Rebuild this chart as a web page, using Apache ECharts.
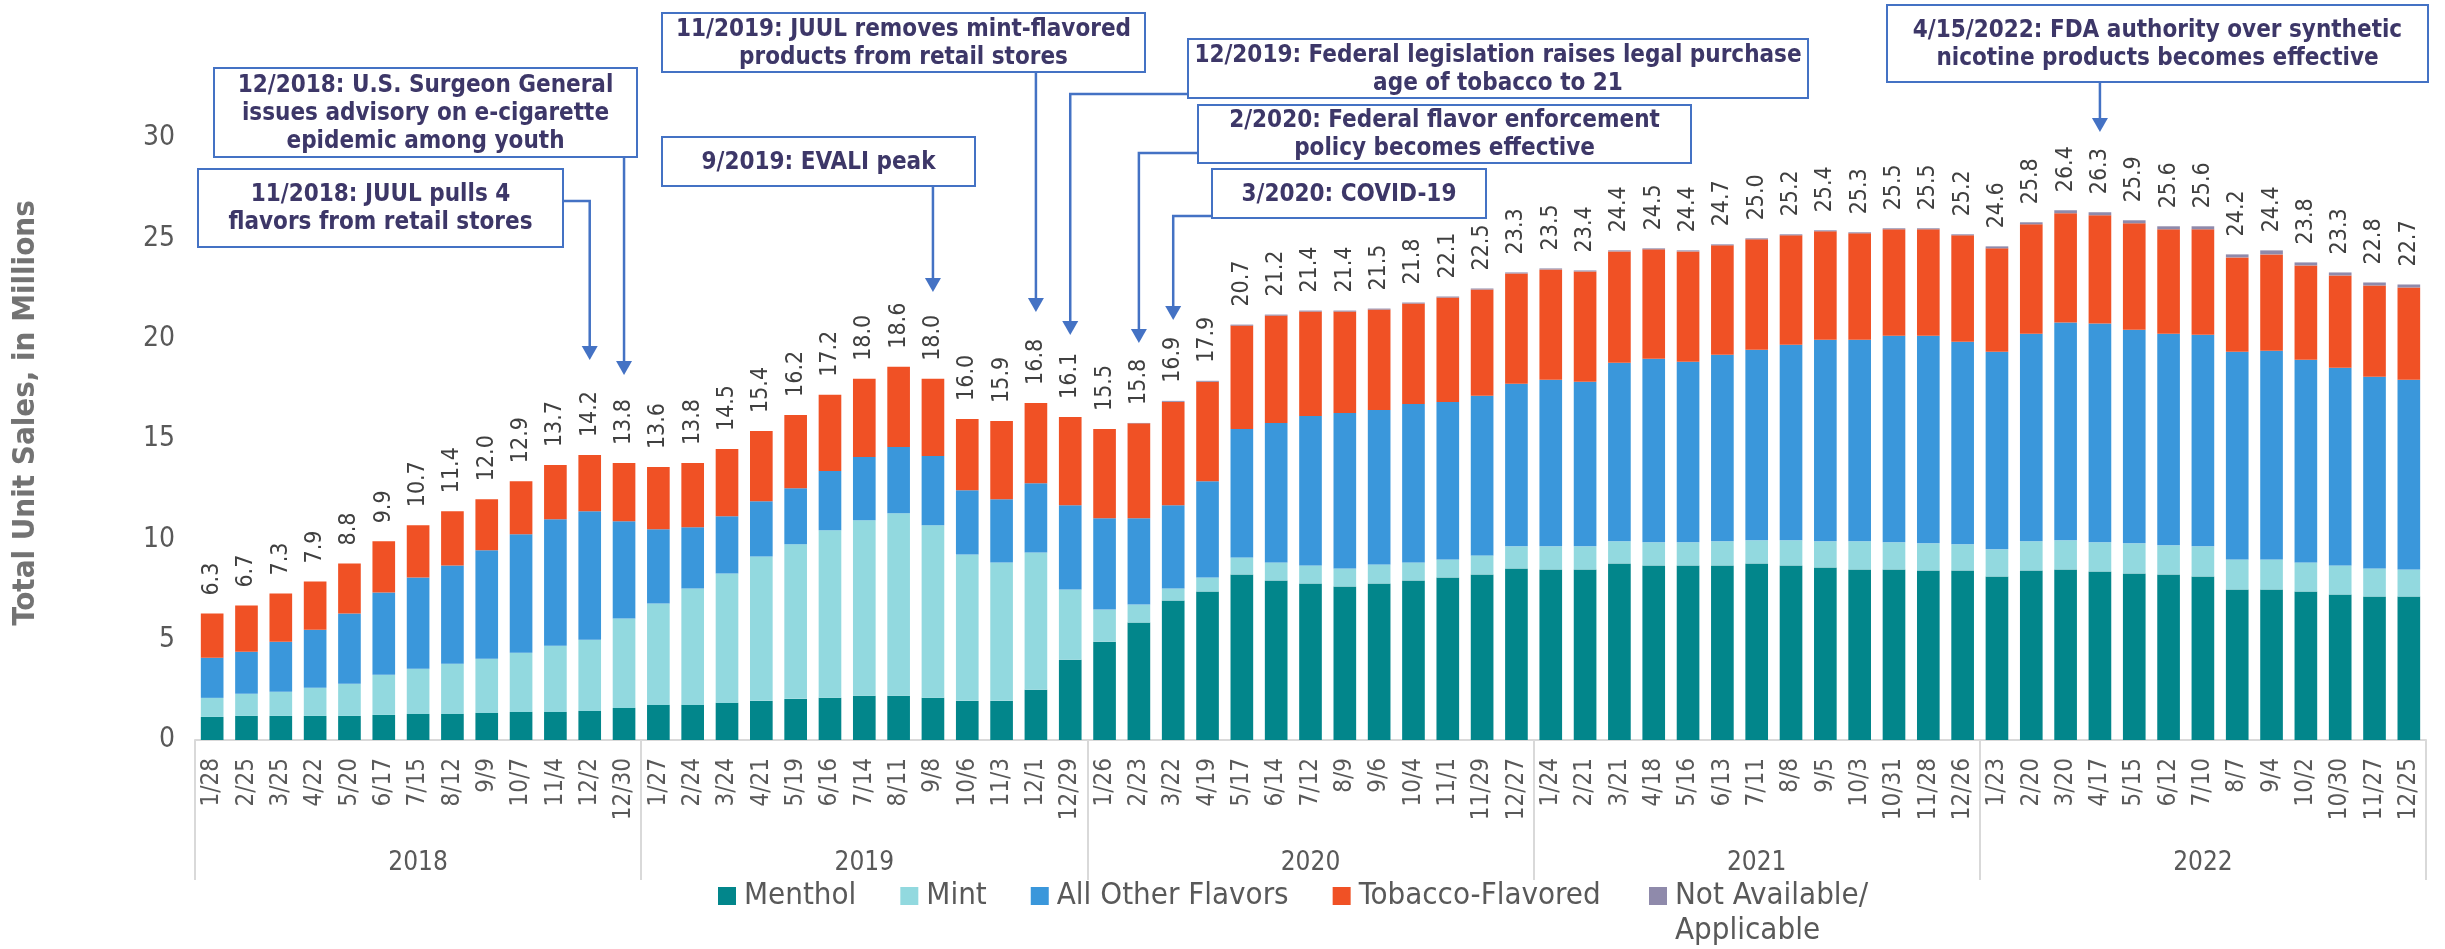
<!DOCTYPE html>
<html><head><meta charset="utf-8">
<script src="https://cdn.jsdelivr.net/npm/echarts@6/dist/echarts.min.js"></script>
<style>html,body{margin:0;padding:0;background:#fff;}#chart{width:2445px;height:949px;}</style>
</head><body><div id="chart"></div>
<script>
const categories = [
 '1/28','2/25','3/25','4/22','5/20','6/17','7/15','8/12','9/9','10/7','11/4','12/2','12/30',
 '1/27','2/24','3/24','4/21','5/19','6/16','7/14','8/11','9/8','10/6','11/3','12/1','12/29',
 '1/26','2/23','3/22','4/19','5/17','6/14','7/12','8/9','9/6','10/4','11/1','11/29','12/27',
 '1/24','2/21','3/21','4/18','5/16','6/13','7/11','8/8','9/5','10/3','10/31','11/28','12/26',
 '1/23','2/20','3/20','4/17','5/15','6/12','7/10','8/7','9/4','10/2','10/30','11/27','12/25'];
const years = ['2018','2019','2020','2021','2022'];
const totals = [
 6.3,6.7,7.3,7.9,8.8,9.9,10.7,11.4,12.0,12.9,13.7,14.2,13.8,
 13.6,13.8,14.5,15.4,16.2,17.2,18.0,18.6,18.0,16.0,15.9,16.8,16.1,
 15.5,15.8,16.9,17.9,20.7,21.2,21.4,21.4,21.5,21.8,22.1,22.5,23.3,
 23.5,23.4,24.4,24.5,24.4,24.7,25.0,25.2,25.4,25.3,25.5,25.5,25.2,
 24.6,25.8,26.4,26.3,25.9,25.6,25.6,24.2,24.4,23.8,23.3,22.8,22.7];
const menthol = [
 1.15,1.2,1.2,1.2,1.2,1.25,1.3,1.3,1.35,1.4,1.4,1.45,1.6,
 1.75,1.75,1.85,1.95,2.05,2.1,2.2,2.2,2.1,1.95,1.95,2.5,4.0,
 4.9,5.85,6.95,7.4,8.25,7.95,7.8,7.65,7.8,7.95,8.1,8.25,8.55,
 8.5,8.5,8.8,8.7,8.7,8.7,8.8,8.7,8.6,8.5,8.5,8.45,8.45,
 8.15,8.45,8.5,8.4,8.3,8.25,8.15,7.5,7.5,7.4,7.25,7.15,7.15];
const mint = [
 0.95,1.1,1.2,1.4,1.6,2.0,2.25,2.5,2.7,2.95,3.3,3.55,4.45,
 5.05,5.8,6.45,7.2,7.7,8.35,8.75,9.1,8.6,7.3,6.9,6.85,3.5,
 1.6,0.9,0.6,0.7,0.85,0.9,0.9,0.9,0.95,0.9,0.9,0.95,1.1,
 1.15,1.15,1.1,1.15,1.15,1.2,1.15,1.25,1.3,1.4,1.35,1.35,1.3,
 1.35,1.45,1.45,1.45,1.5,1.45,1.5,1.5,1.5,1.45,1.45,1.4,1.35];
const otherFlavors = [
 2.0,2.1,2.5,2.9,3.5,4.1,4.55,4.9,5.4,5.9,6.3,6.4,4.85,
 3.7,3.05,2.85,2.75,2.8,2.95,3.15,3.3,3.45,3.2,3.15,3.45,4.2,
 4.55,4.3,4.15,4.8,6.4,6.95,7.45,7.75,7.7,7.9,7.85,7.95,8.1,
 8.3,8.2,8.9,9.15,9.0,9.3,9.5,9.75,10.05,10.05,10.3,10.35,10.1,
 9.85,10.35,10.85,10.9,10.65,10.55,10.55,10.35,10.4,10.1,9.85,9.55,9.45];
const tobacco = [
 2.2,2.3,2.4,2.4,2.5,2.55,2.6,2.7,2.55,2.65,2.7,2.8,2.9,
 3.1,3.2,3.35,3.5,3.65,3.8,3.9,4.0,3.85,3.55,3.9,4.0,4.4,
 4.45,4.73,5.15,4.95,5.15,5.35,5.2,5.05,5.0,5.0,5.2,5.3,5.5,
 5.5,5.5,5.55,5.45,5.5,5.45,5.5,5.45,5.4,5.3,5.3,5.3,5.3,
 5.15,5.45,5.45,5.4,5.3,5.2,5.25,4.7,4.8,4.7,4.6,4.55,4.6];
const notAvailable = [
 0,0,0,0,0,0,0,0,0,0,0,0,0,
 0,0,0,0,0,0,0,0,0,0,0,0,0,
 0,0.02,0.05,0.05,0.05,0.05,0.05,0.05,0.05,0.05,0.05,0.05,0.05,
 0.05,0.05,0.05,0.05,0.05,0.05,0.05,0.05,0.05,0.05,0.05,0.05,0.05,
 0.1,0.1,0.15,0.15,0.15,0.15,0.15,0.15,0.2,0.15,0.15,0.15,0.15];
const seriesNames = ['Menthol','Mint','All Other Flavors','Tobacco-Flavored','Not Available/Applicable'];
const colors = ['#02868B','#92D9DF','#3A97DB','#F05125','#8F8AAB'];
const annotations = [
 {text:'12/2018: U.S. Surgeon General\nissues advisory on e-cigarette\nepidemic among youth', box:[214,68,423,89], cat:12, from:'bottom', tipY:375},
 {text:'11/2018: JUUL pulls 4\nflavors from retail stores', box:[198,169,365,78], cat:11, from:'right', y:201, tipY:360},
 {text:'11/2019: JUUL removes mint-flavored\nproducts from retail stores', box:[662,13,483,59], cat:24, from:'bottom', tipY:312},
 {text:'9/2019: EVALI peak', box:[662,137,313,49], cat:21, from:'bottom', tipY:292},
 {text:'12/2019: Federal legislation raises legal purchase\nage of tobacco to 21', box:[1188,39,620,59], cat:25, from:'left', y:94, tipY:335},
 {text:'2/2020: Federal flavor enforcement\npolicy becomes effective', box:[1198,105,493,58], cat:27, from:'left', y:153, tipY:343},
 {text:'3/2020: COVID-19', box:[1212,169,274,49], cat:28, from:'left', y:216, tipY:320},
 {text:'4/15/2022: FDA authority over synthetic\nnicotine products becomes effective', box:[1887,5,541,77], cat:55, from:'bottom', tipY:132}
];

function fontAvailable(f){
  const c = document.createElement('canvas').getContext('2d');
  const s = 'mmmmmwwwwwlliiIII0123456789ABCabc';
  c.font = '40px monospace'; const a = c.measureText(s).width;
  c.font = '40px "' + f + '", monospace'; const b = c.measureText(s).width;
  return Math.abs(a - b) > 0.5;
}
const COND = fontAvailable('DejaVu Sans Condensed');
const FF = COND ? '"DejaVu Sans Condensed", "DejaVu Sans"' : '"DejaVu Sans"';
const K = COND ? 1 : 0.9;

const chart = echarts.init(document.getElementById('chart'), null, {renderer:'canvas'});
const seriesData = [menthol, mint, otherFlavors, tobacco, notAvailable];
const series = seriesNames.map((n, i) => ({
  name: n, type: 'bar', stack: 'total', xAxisIndex: 0, yAxisIndex: 0,
  data: seriesData[i], barWidth: '66%',
  itemStyle: {color: colors[i]},
  label: i === 4 ? {
    show: true, position: 'top', rotate: 90, align: 'left', verticalAlign: 'middle', distance: 18,
    formatter: p => totals[p.dataIndex].toFixed(1),
    fontSize: 23*K, fontFamily: FF, color: '#404040'
  } : {show: false}
}));

const LEG_TOP = 878.5;
const LEG2_LEFT = 1649;
const legendText = {fontSize: 31*K, fontFamily: FF, color: '#595959', lineHeight: 35, padding: [0,0,0,3]};
const option = {
  animation: false,
  backgroundColor: '#ffffff',
  grid: {left: 195, right: 19, top: 138, bottom: 209, containLabel: false},
  xAxis: [
    {type:'category', data: categories, position:'bottom',
     axisLine:{show:true, lineStyle:{color:'#d9d9d9', width:2}},
     axisTick:{show:false},
     axisLabel:{interval:0, rotate:90, margin:18, fontSize:24*K, fontFamily:FF, color:'#595959'}},
    {type:'category', data: years, position:'bottom', offset:140,
     axisLine:{show:false},
     axisTick:{show:true, inside:true, length:140, lineStyle:{color:'#d9d9d9', width:2}},
     axisLabel:{inside:true, margin:4, fontSize:26*K, fontFamily:FF, color:'#595959'},
     splitLine:{show:false}}
  ],
  yAxis: {type:'value', min:0, max:30, interval:5,
    axisLine:{show:false}, axisTick:{show:false}, splitLine:{show:false},
    axisLabel:{fontSize:28*K, fontFamily:FF, color:'#595959', margin:20}},
  legend: [
    {left: 718, top: LEG_TOP, padding: 0, itemWidth: 18, itemHeight: 18, itemGap: 44, icon: 'rect',
     textStyle: legendText, data: seriesNames.slice(0, 4)},
    {left: LEG2_LEFT, top: LEG_TOP, padding: 0, itemWidth: 18, itemHeight: 18, itemGap: 44, icon: 'rect',
     textStyle: legendText, data: seriesNames.slice(4),
     formatter: n => 'Not Available/'}
  ],
  series: series
};
chart.setOption(option);

const COLOR = '#4472C4';
const g = [];
g.push({type:'text', x: 26, y: 413, rotation: Math.PI/2, z: 10,
  style:{text:'Total Unit Sales, in Millions', font:'bold ' + (31*K) + 'px ' + FF, fill:'#737373', align:'center', verticalAlign:'middle'}});
g.push({type:'text', x: LEG2_LEFT + 26, y: LEG_TOP + 8.5 + 9 + 35, z: 10,
  style:{text:'Applicable', font: (31*K) + 'px ' + FF, fill:'#595959', align:'left', verticalAlign:'middle'}});
annotations.forEach(a => {
  const [bx, by, bw, bh] = a.box;
  const x = chart.convertToPixel({xAxisIndex:0}, a.cat);
  let pts;
  const headH = 14;
  if (a.from === 'bottom') pts = [[x, by + bh], [x, a.tipY - headH + 1]];
  else if (a.from === 'left') pts = [[bx, a.y], [x, a.y], [x, a.tipY - headH + 1]];
  else pts = [[bx + bw, a.y], [x, a.y], [x, a.tipY - headH + 1]];
  g.push({type:'polyline', z: 10, shape:{points: pts}, style:{stroke: COLOR, lineWidth: 2.5, fill: null}});
  g.push({type:'polygon', z: 10, shape:{points: [[x-8, a.tipY-headH],[x+8, a.tipY-headH],[x, a.tipY]]}, style:{fill: COLOR}});
  g.push({type:'rect', z: 11, shape:{x: bx, y: by, width: bw, height: bh}, style:{fill:'#ffffff', stroke: COLOR, lineWidth: 2}});
  g.push({type:'text', z: 12, x: bx + bw/2, y: by + bh/2 + 1,
    style:{text: a.text, font: 'bold ' + (24*K) + 'px ' + FF, fill:'#3d3768', align:'center', verticalAlign:'middle', lineHeight: 28}});
});
chart.setOption({graphic: g});
</script></body></html>
